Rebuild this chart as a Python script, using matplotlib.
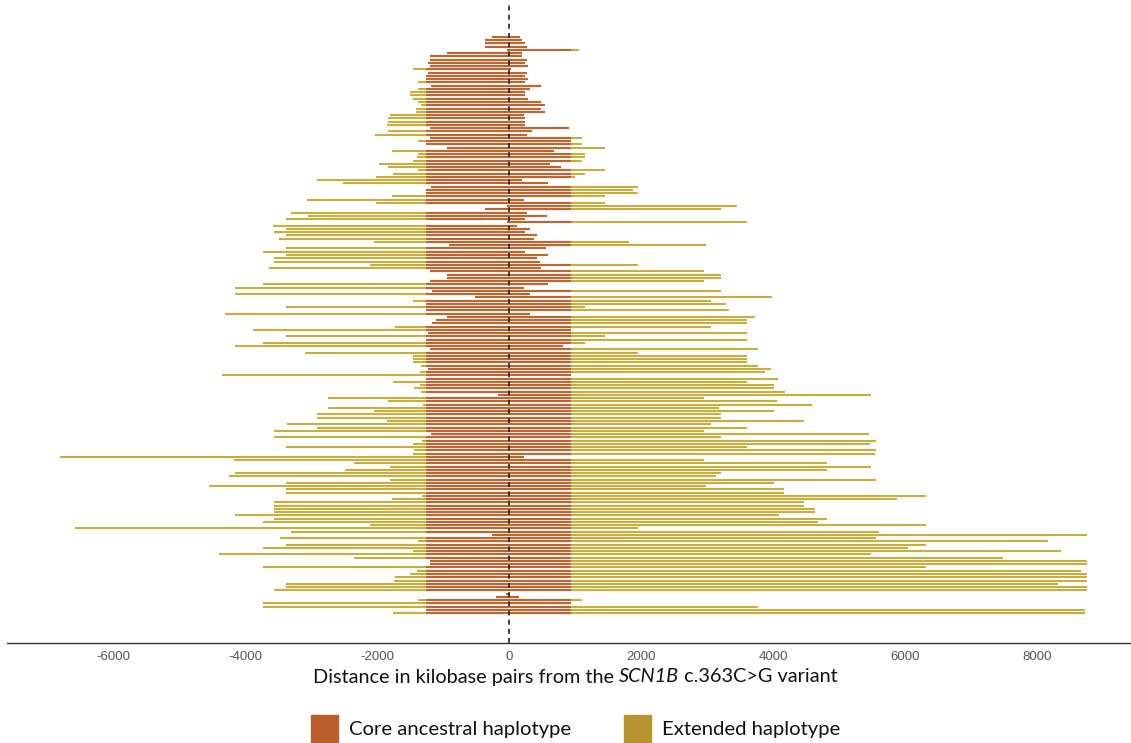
import numpy as np
import matplotlib
matplotlib.use("Agg")
from matplotlib import pyplot as plt
from matplotlib.patches import Rectangle

# haplotype extent per sample (kb from variant), listed top row to bottom row
hap_start = [
    -258, -367, -367, -367, -28, -946, -1198, -1198, -1230, -1198,
    -1460, -1230, -1252, -1252, -1373, -1176, -1384, -1504, -1504, -1449,
    -1384, -1329, -1405, -1405, -1799, -1832, -1832, -1843, -1198, -1832,
    -2028, -1198, -1384, -1263, -946, -1766, -1384, -1394, -1460, -1974,
    -1832, -1384, -1755, -2018, -2903, -2509, -1176, -1252, -1252, -1766,
    -3067, -2018, -28, -367, -3307, -3045, -3384, -28, -3570, -3384,
    -3559, -3384, -3482, -2050, -914, -3384, -3734, -3384, -3559, -3559,
    -2105, -3635, -1198, -946, -946, -1198, -3734, -4149, -1165, -4149,
    -520, -1460, -1252, -3384, -1252, -4302, -946, -1110, -1165, -1722,
    -3876, -1230, -3384, -1263, -3734, -4149, -1198, -3089, -1460, -1460,
    -1460, -1329, -1230, -1351, -4346, -1252, -1755, -1351, -1438, -1340,
    -170, -2739, -1832, -1307, -2739, -2050, -2903, -2903, -1843, -3362,
    -2903, -3559, -1176, -3559, -1318, -1449, -3384, -1438, -1460, -6805,
    -4171, -2356, -1799, -2487, -4149, -4236, -1799, -3384, -4542, -3384,
    -3384, -1318, -1766, -3559, -3559, -3559, -3559, -4149, -3559, -3734,
    -2105, -6575, -3307, -258, -3471, -1384, -3384, -3734, -1460, -4389,
    -2356, -1198, -1198, -3734, -1394, -1493, -1722, -1744, -3384, -3384,
    -3559, -40, -192, -1384, -3734, -3734, -1252, -1755,
]
hap_end = [
    169, 201, 245, 267, 1054, 201, 201, 267, 245, 289,
    26, 267, 245, 289, 245, 486, 322, 245, 245, 289,
    486, 540, 486, 540, 223, 245, 245, 245, 912, 354,
    267, 1109, 945, 1109, 1448, 682, 1152, 1152, 1109, 628,
    781, 1448, 1152, 999, 201, 595, 1961, 1885, 1961, 1448,
    223, 1448, 3458, 3218, 267, 573, 245, 3611, 125, 322,
    245, 431, 376, 1819, 2988, 562, 245, 595, 431, 464,
    1961, 486, 2956, 3207, 3207, 2956, 595, 223, 3207, 322,
    3983, 3054, 3294, 1152, 3338, 322, 3732, 3611, 3600, 3054,
    945, 3611, 1448, 3611, 1152, 824, 3775, 1961, 3611, 3611,
    3611, 3775, 3972, 3874, 945, 4071, 3611, 4016, 4016, 4180,
    5481, 2956, 4060, 4595, 3185, 4016, 3207, 3207, 4475, 3054,
    3611, 2956, 5448, 3207, 5568, 5469, 3611, 5568, 5546, 223,
    2956, 4825, 5481, 4814, 3207, 3141, 5568, 4016, 2988, 4169,
    4169, 6311, 5885, 4475, 4475, 4639, 4639, 4092, 4814, 4683,
    6322, 1961, 5601, 8759, 5568, 8169, 6311, 6049, 8366, 5481,
    7492, 8759, 8759, 6322, 8661, 8759, 8759, 8759, 8312, 8759,
    8759, 10, 158, 1109, 945, 3775, 8726, 8726,
]
core_lo = -1255
core_hi = 945

labels = ["Core ancestral haplotype", "Extended haplotype"]
xticks = [-6000, -4000, -2000, 0, 2000, 4000, 6000, 8000]

col_core = "#C2642F"
col_ext = "#CBAD3B"
leg_core = "#BB5E2B"
leg_ext = "#B8942F"

start = np.array(hap_start)
end = np.array(hap_end)
rows = np.arange(len(start))
c_lo = np.maximum(start, core_lo)
c_hi = np.minimum(end, core_hi)

fig = plt.figure(figsize=(11.31, 7.43), dpi=100)
ax = fig.add_axes([7 / 1131, 100 / 743, 1124 / 1131, 638 / 743])

ax.hlines(rows, start, end, color=col_ext, lw=1.5)
ax.hlines(rows, c_lo, c_hi, color=col_core, lw=1.5)
ax.axvline(0, color="#222222", lw=1.2, ls=(0, (3, 2.5)))

ax.set_xlim(-7606, 9424)
ax.set_ylim(186.2, -9.8)
ax.set_yticks([])
ax.set_xticks(xticks)
ax.set_xticklabels([str(t) for t in xticks], fontsize=9.5, color="#555555",
                   family="Liberation Sans")
ax.tick_params(axis="x", length=0, pad=6)
for s in ["top", "right", "left"]:
    ax.spines[s].set_visible(False)
ax.spines["bottom"].set_color("#333333")
ax.spines["bottom"].set_linewidth(1.0)

# x axis title with italic gene name, pieced together
fam = "Lato"
parts = [("Distance in kilobase pairs from the ", "normal"),
         ("SCN1B", "italic"),
         (" c.363C>G variant", "normal")]
fig.canvas.draw()
r = fig.canvas.get_renderer()
texts = []
widths = []
for txt, st in parts:
    t = fig.text(0, (743 - 677) / 743, txt, fontsize=14.3, family=fam,
                 style=st, va="center", ha="left", color="#111111")
    bb = t.get_window_extent(renderer=r)
    texts.append(t)
    widths.append(bb.width)
total = sum(widths)
x0 = 575 - total / 2
for t, w in zip(texts, widths):
    t.set_x(x0 / 1131)
    x0 += w

# legend
for (px, col, lab, tx) in [(311, leg_core, labels[0], 349), (624, leg_ext, labels[1], 662)]:
    fig.patches.append(Rectangle((px / 1131, 0), 27 / 1131, 28 / 743,
                                 transform=fig.transFigure, color=col))
    fig.text(tx / 1131, (743 - 729) / 743, lab, fontsize=14.6, family=fam,
             va="center", ha="left", color="#111111")

fig.savefig("out.png", dpi=100)
